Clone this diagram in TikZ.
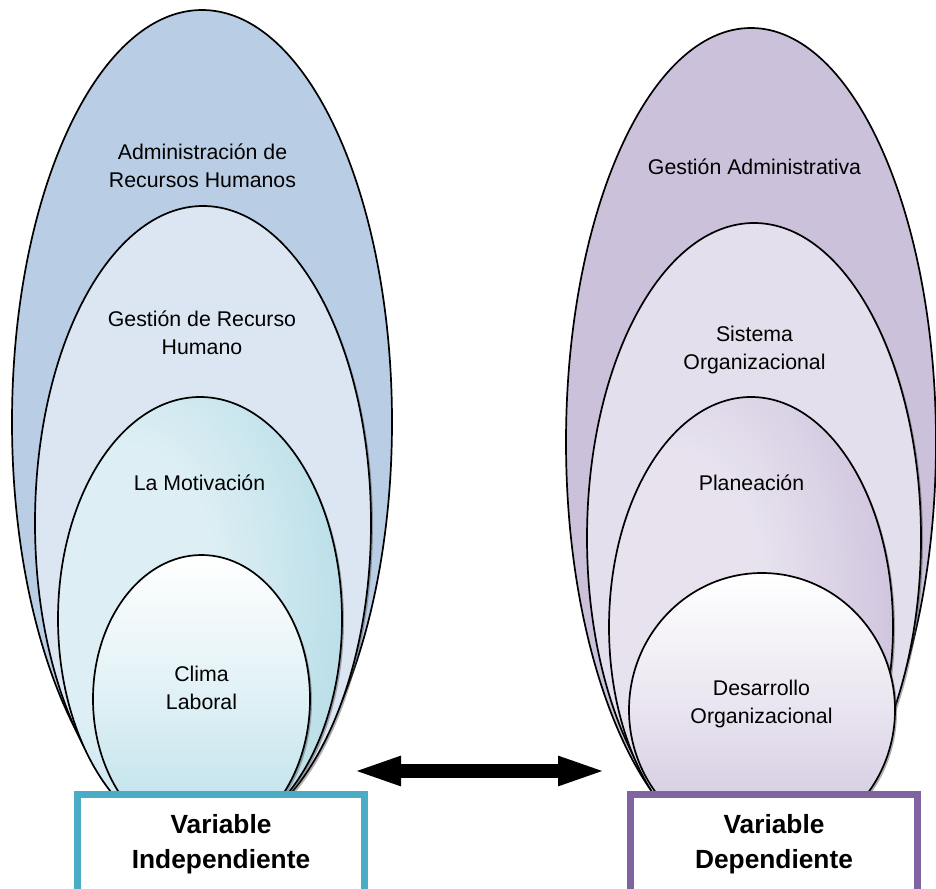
\documentclass[tikz,border=0pt]{standalone}
\usepackage{fontspec}
\setmainfont{Liberation Sans}
\usetikzlibrary{shapes.geometric,arrows.meta,shadows}

% fills
\definecolor{rhOuter}{HTML}{B9CDE5}
\definecolor{rhInner}{HTML}{DCE6F2}
\definecolor{motLight}{HTML}{DDEFF4}
\definecolor{motDark}{HTML}{A3D3E0}
\definecolor{climaBottom}{HTML}{B8DFE9}
\definecolor{gaOuter}{HTML}{CCC1DA}
\definecolor{gaInner}{HTML}{E4DFEC}
\definecolor{planLight}{HTML}{E7E2EE}
\definecolor{planDark}{HTML}{BFB0D3}
\definecolor{doBottom}{HTML}{CEC3DD}
% box borders
\definecolor{indepBorder}{HTML}{4BACC6}
\definecolor{depBorder}{HTML}{8064A2}

% off-centre radial gradients for the third ring of each stack
\pgfdeclareradialshading{motivShade}{\pgfpoint{-16bp}{4bp}}{%
  color(0bp)=(motLight); color(16bp)=(motLight); color(50bp)=(motDark); color(100bp)=(motDark)}
\pgfdeclareradialshading{planShade}{\pgfpoint{-16bp}{4bp}}{%
  color(0bp)=(planLight); color(16bp)=(planLight); color(50bp)=(planDark); color(100bp)=(planDark)}

\tikzset{
  ring/.style={ellipse, draw=black, line width=1.7pt, inner sep=0pt},
  innerring/.style={ring, drop shadow={shadow xshift=2pt, shadow yshift=-2pt, opacity=0.45, fill=black!70}},
  lbl/.style={align=center, inner sep=0pt, text=black, font=\fontsize{21.3}{27.5}\selectfont},
  varbox/.style={rectangle, line width=7pt, fill=white, minimum width=287pt, minimum height=100pt,
    inner sep=0pt, align=center, font=\fontsize{26.3}{35}\selectfont\bfseries},
  dblarrow/.style={line width=13.5pt, draw=black,
    {Triangle[length=50pt,width=26pt]}-{Triangle[length=50pt,width=26pt]}}
}

\begin{document}
\begin{tikzpicture}[x=1pt, y=-1pt]
  \clip (0,0) rectangle (936,888);
  \fill[white] (0,0) rectangle (936,888);

  % independent variable stack
  \node[ring, fill=rhOuter, minimum width=380pt, minimum height=824pt] (adm) at (202,422) {};
  \node[innerring, fill=rhInner, minimum width=336pt, minimum height=634pt] (grh) at (203,523) {};
  \node[innerring, shading=motivShade, minimum width=284pt, minimum height=444pt] (mot) at (200,619) {};
  \node[innerring, top color=white, bottom color=climaBottom, middle color=climaBottom!45!white,
        minimum width=217pt, minimum height=288pt] (clima) at (201.5,699) {};

  \node[lbl] (tAdm) at (202.5,166) {Administración de\\Recursos Humanos};
  \node[lbl] (tGrh) at (202,333) {Gestión de Recurso\\Humano};
  \node[lbl] (tMot) at (199.5,483) {La Motivación};
  \node[lbl] (tClima) at (201.5,688) {Clima\\Laboral};

  % dependent variable stack
  \node[ring, fill=gaOuter, minimum width=370pt, minimum height=828pt] (ga) at (751,442) {};
  \node[innerring, fill=gaInner, minimum width=334pt, minimum height=630pt] (so) at (754,538) {};
  \node[innerring, shading=planShade, minimum width=284pt, minimum height=460pt] (plan) at (751,627) {};
  \node[innerring, top color=white, bottom color=doBottom, middle color=doBottom!45!white,
        minimum width=266pt, minimum height=274pt] (do) at (762,710) {};

  \node[lbl] (tGa) at (754.5,167) {Gestión Administrativa};
  \node[lbl] (tSo) at (754.5,350) {Sistema\\Organizacional};
  \node[lbl] (tPlan) at (751.5,483) {Planeación};
  \node[lbl] (tDo) at (761.5,704) {Desarrollo\\Organizacional};

  % variable boxes
  \node[varbox, draw=indepBorder] (vInd) at (221,844) {Variable\\Independiente};
  \node[varbox, draw=depBorder] (vDep) at (774,844) {Variable\\Dependiente};

  % two-way relation arrow
  \coordinate (aL) at (351,771);
  \coordinate (aR) at (608,771);
  \draw[dblarrow] (aL) -- (aR);
\end{tikzpicture}
\end{document}
